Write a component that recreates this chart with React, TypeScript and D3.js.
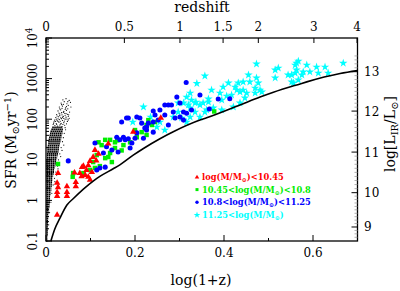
import React, { useEffect, useRef } from "react";
import * as d3 from "d3";

// points are [log(1+z), SFR]
const lowMass: [number, number][] = [
  [0.027, 4.7], [0.025, 2.7], [0.027, 2.1], [0.025, 1.6], [0.025, 1.28], [0.025, 0.44],
  [0.047, 2.2], [0.047, 1.6], [0.047, 1.28], [0.064, 4.8], [0.067, 2.8], [0.067, 2.2],
  [0.076, 4.7], [0.08, 3.9], [0.081, 6.6], [0.084, 7.0], [0.088, 4.2], [0.091, 5.6],
  [0.095, 3.8], [0.095, 7.3], [0.099, 3.2], [0.099, 9.3], [0.103, 5.0], [0.106, 11.7],
  [0.11, 17.4], [0.113, 9.5], [0.118, 14], [0.14, 25], [0.196, 49], [0.258, 107],
];

const midMass: [number, number][] = [
  [0.027, 7.9], [0.06, 3.8], [0.061, 4.7], [0.084, 4.7], [0.099, 5.6], [0.106, 8.8],
  [0.11, 6.3], [0.114, 13.1], [0.118, 27], [0.121, 7.0], [0.125, 23], [0.133, 31],
  [0.133, 11], [0.14, 11.7], [0.144, 31], [0.144, 14.7], [0.148, 8.8], [0.155, 19.5],
  [0.155, 27], [0.16, 30], [0.17, 17], [0.174, 23], [0.189, 27], [0.2, 54], [0.204, 36],
  [0.215, 48], [0.226, 41], [0.226, 72], [0.23, 95], [0.238, 72], [0.245, 85], [0.378, 155],
];

const highMass: [number, number][] = [
  [0.05, 9.4], [0.11, 26], [0.114, 5.6], [0.121, 6.3], [0.129, 14.7], [0.133, 6.6],
  [0.136, 21], [0.148, 17.4], [0.159, 36], [0.162, 15.6], [0.166, 31], [0.17, 85],
  [0.174, 36], [0.178, 31], [0.181, 107], [0.185, 107], [0.185, 33], [0.189, 19.5],
  [0.193, 26], [0.2, 34], [0.204, 46], [0.204, 113], [0.211, 107], [0.215, 80],
  [0.219, 34], [0.222, 61], [0.226, 54], [0.226, 64], [0.23, 80], [0.241, 85],
  [0.241, 48], [0.241, 159], [0.245, 127], [0.252, 95], [0.256, 169], [0.267, 127],
  [0.267, 224], [0.275, 224], [0.275, 72], [0.282, 224], [0.286, 150], [0.29, 107],
  [0.294, 350], [0.301, 251], [0.301, 113], [0.309, 150], [0.309, 95], [0.315, 800],
  [0.316, 140], [0.327, 169], [0.346, 394], [0.367, 178], [0.387, 315], [0.413, 320],
];

const topMass: [number, number][] = [
  [0.195, 85], [0.219, 200], [0.235, 113], [0.249, 64], [0.256, 85], [0.267, 54],
  [0.286, 113], [0.297, 150], [0.297, 251], [0.305, 107], [0.309, 251], [0.316, 85],
  [0.316, 350], [0.32, 224], [0.324, 442], [0.324, 113], [0.324, 189], [0.327, 297],
  [0.335, 251], [0.335, 150], [0.337, 265], [0.339, 760], [0.346, 224], [0.346, 113],
  [0.353, 251], [0.357, 1160], [0.357, 150], [0.361, 169], [0.365, 265], [0.365, 315],
  [0.372, 524], [0.376, 189], [0.391, 442], [0.395, 169], [0.395, 297], [0.398, 620],
  [0.406, 372], [0.41, 780], [0.417, 394], [0.421, 200], [0.425, 620], [0.429, 524],
  [0.432, 780], [0.436, 468], [0.436, 251], [0.443, 825], [0.443, 524], [0.447, 333],
  [0.451, 442], [0.455, 1230], [0.458, 825], [0.47, 587], [0.47, 442], [0.473, 2290],
  [0.473, 1040], [0.477, 780], [0.481, 524], [0.485, 468], [0.515, 1040], [0.515, 1630],
  [0.522, 1820], [0.544, 1230], [0.552, 825], [0.552, 1230], [0.556, 780], [0.56, 2160],
  [0.56, 1370], [0.563, 2400], [0.563, 1630], [0.567, 2700], [0.567, 925], [0.575, 1230],
  [0.578, 1460], [0.586, 2160], [0.593, 1460], [0.608, 1930], [0.612, 1370],
  [0.627, 1930], [0.634, 1370], [0.668, 2400],
];

// local galaxies, dense core: [SFR, log(1+z) from, log(1+z) to]
const localCore: [number, number, number][] = [
  [0.1, 0.001, 0.003], [0.112, 0.001, 0.003], [0.126, 0.001, 0.003], [0.141, 0.001, 0.004],
  [0.158, 0.001, 0.004], [0.178, 0.001, 0.004], [0.2, 0.001, 0.004], [0.224, 0.001, 0.004],
  [0.251, 0.001, 0.005], [0.282, 0.001, 0.005], [0.316, 0.001, 0.005], [0.355, 0.001, 0.006],
  [0.398, 0.001, 0.006], [0.447, 0.001, 0.006], [0.501, 0.001, 0.007], [0.562, 0.001, 0.007],
  [0.631, 0.001, 0.007], [0.708, 0.001, 0.008], [0.794, 0.001, 0.008], [0.891, 0.001, 0.009],
  [1.0, 0.001, 0.009], [1.12, 0.001, 0.01], [1.26, 0.001, 0.01], [1.41, 0.001, 0.011],
  [1.58, 0.001, 0.011], [1.78, 0.001, 0.012], [2.0, 0.001, 0.012], [2.24, 0.001, 0.013],
  [2.51, 0.001, 0.013], [2.82, 0.001, 0.014], [3.16, 0.001, 0.015], [3.55, 0.001, 0.015],
  [3.98, 0.001, 0.016], [4.47, 0.001, 0.017], [5.01, 0.001, 0.018], [5.62, 0.001, 0.019],
  [6.31, 0.001, 0.02], [7.08, 0.001, 0.021], [7.94, 0.001, 0.022], [8.91, 0.001, 0.023],
  [10, 0.001, 0.024], [11.2, 0.002, 0.025], [12.6, 0.002, 0.026], [14.1, 0.002, 0.027],
  [15.8, 0.003, 0.028], [17.8, 0.003, 0.029], [20, 0.003, 0.03], [22.4, 0.004, 0.031],
  [25.1, 0.005, 0.032], [28.2, 0.005, 0.033], [31.6, 0.006, 0.034], [35.5, 0.007, 0.035],
  [39.8, 0.008, 0.036], [44.7, 0.009, 0.037], [50.1, 0.01, 0.038], [56.2, 0.012, 0.038],
  [63.1, 0.014, 0.037],
];

// local galaxies, scattered outskirts: [log(1+z), SFR]
const localSparse: [number, number][] = [
  [0.02, 70], [0.026, 68], [0.031, 72], [0.036, 66], [0.042, 71], [0.017, 80], [0.023, 78],
  [0.029, 84], [0.034, 79], [0.04, 82], [0.046, 77], [0.019, 95], [0.025, 92], [0.03, 98],
  [0.037, 93], [0.043, 100], [0.05, 96], [0.022, 110], [0.028, 115], [0.033, 108],
  [0.039, 118], [0.045, 112], [0.052, 105], [0.024, 130], [0.031, 135], [0.036, 128],
  [0.042, 140], [0.048, 132], [0.027, 160], [0.033, 170], [0.04, 155], [0.046, 165],
  [0.053, 150], [0.03, 200], [0.037, 210], [0.044, 190], [0.05, 220], [0.034, 250],
  [0.041, 270], [0.047, 240], [0.055, 260], [0.038, 300], [0.045, 320], [0.052, 290],
  [0.041, 45], [0.039, 35], [0.037, 28], [0.034, 20], [0.031, 14], [0.028, 10], [0.026, 7],
  [0.022, 5], [0.019, 3.5], [0.016, 2.4], [0.013, 1.5], [0.011, 0.9], [0.008, 0.5],
  [0.006, 0.25], [0.044, 55], [0.043, 62], [0.021, 88], [0.027, 102], [0.035, 145],
  [0.016, 74], [0.024, 74], [0.033, 76], [0.038, 74], [0.018, 86], [0.027, 88], [0.032, 89],
  [0.041, 90], [0.048, 88], [0.023, 100], [0.035, 103], [0.04, 105], [0.047, 101],
  [0.025, 120], [0.031, 122], [0.037, 112], [0.043, 125], [0.05, 118], [0.029, 142],
  [0.039, 148], [0.045, 138], [0.051, 128], [0.031, 180], [0.036, 185], [0.043, 175],
  [0.049, 180], [0.035, 228], [0.039, 232], [0.046, 205], [0.056, 200], [0.049, 270],
  [0.04, 23], [0.036, 17], [0.033, 12], [0.03, 8.5], [0.027, 6], [0.024, 4.2], [0.02, 2.9],
];

const limitCurve: [number, number][] = [
  [0.011, 0.1], [0.02, 0.2], [0.031, 0.36], [0.047, 0.77], [0.061, 1.1], [0.084, 1.9],
  [0.106, 3.0], [0.121, 3.9], [0.151, 6.0], [0.166, 7.5], [0.196, 13], [0.219, 19],
  [0.256, 33], [0.286, 49], [0.346, 95], [0.361, 108], [0.436, 224], [0.481, 350],
  [0.511, 460], [0.571, 740], [0.586, 830], [0.661, 1330], [0.7, 1570],
];

const xTicks = [0, 0.2, 0.4, 0.6];
const xMinorTicks = [0.1, 0.3, 0.5];
const yTicks = [0.1, 1, 10, 100, 1000, 10000];
const yTickLabels = ["0.1", "1", "10", "100", "1000", "10"];
const zTicks = [0, 0.5, 1, 1.5, 2, 3, 4];
const zTickLabels = ["0", "0.5", "1", "1.5", "2", "3", "4"];
const lirTicks = [9, 10, 11, 12, 13];
const lirAsLogSfr = [-0.655, 0.19, 1.19, 2.2, 3.17];

const legendColors = ["#ff0000", "#00ee00", "#0000ff", "#00ffff"];
const legendPre = ["log(M/M", "10.45<log(M/M", "10.8<log(M/M", "11.25<log(M/M"];
const legendPost = [")<10.45", ")<10.8", ")<11.25", ")"];

const App = () => {
  const svgRef = useRef<SVGSVGElement>(null);

  useEffect(() => {
    const svg = d3.select(svgRef.current);
    svg.selectAll("*").remove();

    const left = 46, right = 357.5, top = 38, bottom = 241;
    const font = "'DejaVu Serif', serif";

    const x = d3.scaleLinear().domain([0, 0.7]).range([left, right]);
    const y = d3.scaleLog().domain([0.1, 10000]).range([bottom, top]);
    const lir = d3.scaleLinear().domain(lirTicks).range(lirAsLogSfr);
    const yLir = (v: number) => y(Math.pow(10, lir(v)));

    // local galaxies
    const local = svg.append("g");
    local
      .selectAll("line")
      .data(localCore)
      .enter()
      .append("line")
      .attr("x1", (d) => x(d[1]))
      .attr("x2", (d) => x(d[2]))
      .attr("y1", (d) => y(d[0]))
      .attr("y2", (d) => y(d[0]))
      .attr("stroke", "#000")
      .attr("stroke-width", 1.8)
      .attr("stroke-dasharray", "1.6 0.4");
    local
      .selectAll("circle")
      .data(localSparse)
      .enter()
      .append("circle")
      .attr("cx", (d) => x(d[0]))
      .attr("cy", (d) => y(d[1]))
      .attr("r", 0.6)
      .attr("fill", "#000");

    const sym = (type: d3.SymbolType, size: number) => d3.symbol().type(type).size(size)();

    const drawSeries = (data: [number, number][], path: string | null, color: string) => {
      svg
        .append("g")
        .selectAll("path")
        .data(data)
        .enter()
        .append("path")
        .attr("d", path)
        .attr("transform", (d) => `translate(${x(d[0])},${y(d[1])})`)
        .attr("fill", color);
    };

    const shapes = [
      sym(d3.symbolTriangle, 18),
      sym(d3.symbolSquare, 20),
      sym(d3.symbolCircle, 20),
      sym(d3.symbolStar, 22),
    ];

    drawSeries(topMass, shapes[3], legendColors[3]);
    drawSeries(midMass, shapes[1], legendColors[1]);
    drawSeries(highMass, shapes[2], legendColors[2]);
    drawSeries(lowMass, shapes[0], legendColors[0]);

    // detection limit
    const line = d3
      .line<[number, number]>()
      .x((d) => x(d[0]))
      .y((d) => y(d[1]))
      .curve(d3.curveMonotoneX);
    svg
      .append("path")
      .attr("d", line(limitCurve))
      .attr("fill", "none")
      .attr("stroke", "#000")
      .attr("stroke-width", 1.6);

    // frame
    svg
      .append("rect")
      .attr("x", left)
      .attr("y", top)
      .attr("width", right - left)
      .attr("height", bottom - top)
      .attr("fill", "none")
      .attr("stroke", "#000")
      .attr("stroke-width", 1.3);

    const ticks = svg.append("g").attr("stroke", "#000").attr("stroke-width", 1);

    // bottom
    xTicks.forEach((v) => {
      ticks.append("line").attr("x1", x(v)).attr("x2", x(v)).attr("y1", bottom).attr("y2", bottom - 6);
    });
    xMinorTicks.forEach((v) => {
      ticks.append("line").attr("x1", x(v)).attr("x2", x(v)).attr("y1", bottom).attr("y2", bottom - 3);
    });

    // top (redshift)
    zTicks.forEach((z) => {
      const px = x(Math.log10(1 + z));
      ticks.append("line").attr("x1", px).attr("x2", px).attr("y1", top).attr("y2", top + 5);
    });

    // left
    yTicks.forEach((v) => {
      ticks.append("line").attr("x1", left).attr("x2", left + 6).attr("y1", y(v)).attr("y2", y(v));
    });
    yTicks.slice(0, -1).forEach((v) => {
      d3.range(2, 10).forEach((k) => {
        ticks.append("line").attr("x1", left).attr("x2", left + 3).attr("y1", y(v * k)).attr("y2", y(v * k));
      });
    });

    // right (L_IR)
    lirTicks.forEach((v) => {
      ticks.append("line").attr("x1", right).attr("x2", right - 6).attr("y1", yLir(v)).attr("y2", yLir(v));
    });
    d3.range(87, 135).forEach((k) => {
      if (k % 10 === 0) return;
      const py = yLir(k / 10);
      if (py < top || py > bottom) return;
      svg
        .append("line")
        .attr("x1", right)
        .attr("x2", right - 3)
        .attr("y1", py)
        .attr("y2", py)
        .attr("stroke", "#999")
        .attr("stroke-width", 0.8);
    });

    const labels = svg.append("g").attr("font-family", font).attr("fill", "#000");

    xTicks.forEach((v) => {
      labels
        .append("text")
        .attr("x", x(v))
        .attr("y", 257)
        .attr("text-anchor", "middle")
        .attr("font-size", 12)
        .text(String(v));
    });

    zTicks.forEach((z, i) => {
      labels
        .append("text")
        .attr("x", x(Math.log10(1 + z)))
        .attr("y", 31)
        .attr("text-anchor", "middle")
        .attr("font-size", 12)
        .text(zTickLabels[i]);
    });

    yTicks.forEach((v, i) => {
      const t = labels
        .append("text")
        .attr("transform", `translate(37,${y(v)}) rotate(-90)`)
        .attr("text-anchor", "middle")
        .attr("font-size", 12)
        .text(yTickLabels[i]);
      if (v === 10000) t.append("tspan").attr("dy", -5).attr("font-size", 9).text("4");
    });

    lirTicks.forEach((v) => {
      labels
        .append("text")
        .attr("x", 364)
        .attr("y", yLir(v) + 4.5)
        .attr("font-size", 12)
        .text(String(v));
    });

    labels
      .append("text")
      .attr("x", 202)
      .attr("y", 12)
      .attr("text-anchor", "middle")
      .attr("font-size", 14)
      .text("redshift");

    labels
      .append("text")
      .attr("x", 201)
      .attr("y", 285)
      .attr("text-anchor", "middle")
      .attr("font-size", 14)
      .text("log(1+z)");

    const yLabel = labels
      .append("text")
      .attr("transform", `translate(16,140) rotate(-90)`)
      .attr("text-anchor", "middle")
      .attr("font-size", 14);
    yLabel.append("tspan").text("SFR (M");
    yLabel.append("tspan").attr("dy", 3).attr("font-size", 10).text("⊙");
    yLabel.append("tspan").attr("dy", -3).text("yr");
    yLabel.append("tspan").attr("dy", -5).attr("font-size", 10).text("−1");
    yLabel.append("tspan").attr("dy", 5).text(")");

    const rLabel = labels
      .append("text")
      .attr("transform", `translate(395,134) rotate(-90)`)
      .attr("text-anchor", "middle")
      .attr("font-size", 14);
    rLabel.append("tspan").text("log[L");
    rLabel.append("tspan").attr("dy", 3).attr("font-size", 10).text("IR");
    rLabel.append("tspan").attr("dy", -3).text("/L");
    rLabel.append("tspan").attr("dy", 3).attr("font-size", 10).text("⊙");
    rLabel.append("tspan").attr("dy", -3).text("]");

    // legend
    const rows = [177.3, 189.6, 202.2, 215];
    legendColors.forEach((c, i) => {
      svg
        .append("path")
        .attr("d", i === 3 ? sym(d3.symbolStar, 14) : sym([d3.symbolTriangle, d3.symbolSquare, d3.symbolCircle][i], 9))
        .attr("transform", `translate(197,${rows[i]})`)
        .attr("fill", c);
      const t = svg
        .append("text")
        .attr("x", 202)
        .attr("y", rows[i] + 3)
        .attr("font-family", font)
        .attr("font-weight", "bold")
        .attr("font-size", 8.3)
        .attr("fill", c);
      t.append("tspan").text(legendPre[i]);
      t.append("tspan").attr("dy", 2).attr("font-size", 6).text("⊙");
      t.append("tspan").attr("dy", -2).text(legendPost[i]);
    });
  }, []);

  return (
    <svg
      ref={svgRef}
      width={400}
      height={291}
      style={{ position: "absolute", left: 0, top: 0, background: "#fff" }}
    ></svg>
  );
};

export default App;
